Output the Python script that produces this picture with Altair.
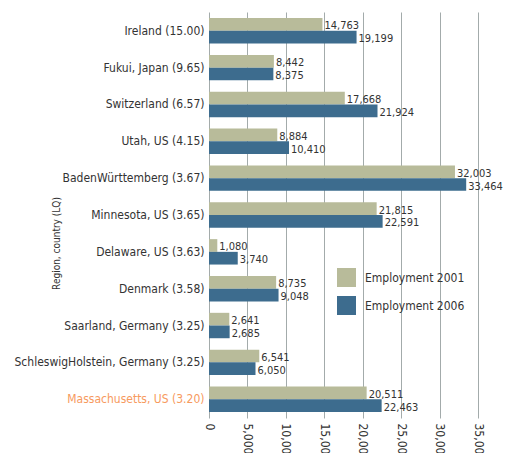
import altair as alt
import pandas as pd

regions = [
    "Ireland (15.00)", "Fukui, Japan (9.65)", "Switzerland (6.57)", "Utah, US (4.15)",
    "BadenWürttemberg (3.67)", "Minnesota, US (3.65)", "Delaware, US (3.63)",
    "Denmark (3.58)", "Saarland, Germany (3.25)", "SchleswigHolstein, Germany (3.25)",
    "Massachusetts, US (3.20)",
]
emp2001 = [14763, 8442, 17668, 8884, 32003, 21815, 1080, 8735, 2641, 6541, 20511]
emp2006 = [19199, 8375, 21924, 10410, 33464, 22591, 3740, 9048, 2685, 6050, 22463]
series = ["Employment 2001", "Employment 2006"]
x_ticks = [0, 5000, 10000, 15000, 20000, 25000, 30000, 35000]

rows = []
for r, a, b in zip(regions, emp2001, emp2006):
    rows.append({"region": r, "series": series[0], "value": a})
    rows.append({"region": r, "series": series[1], "value": b})
df = pd.DataFrame(rows)

FONT = "DejaVu Sans Condensed, Liberation Sans, sans-serif"

y_enc = alt.Y(
    "region:N", sort=regions,
    scale=alt.Scale(paddingInner=0.31, paddingOuter=0.165),
    axis=alt.Axis(
        title="Region, country (LQ)", titleFont=FONT, titleFontSize=10,
        titleFontWeight="normal", titleColor="#333333",
        titleX=-148, titleY=231, titleAngle=-90,
        labelFont=FONT, labelFontSize=12, labelColor=alt.ExprRef(
            expr="datum.value == 'Massachusetts, US (3.20)' ? '#f79a5e' : '#333333'"),
        labelPadding=5, ticks=False, domain=False, labelLimit=300, grid=False,
    ),
)
x_enc = alt.X(
    "value:Q",
    scale=alt.Scale(domain=[0, 35000], nice=False),
    axis=alt.Axis(
        title=None, values=x_ticks, format=",.0f", labelAngle=90, labelAlign="left",
        labelBaseline="middle", labelFont=FONT, labelFontSize=12, labelColor="#333333",
        grid=True, gridColor="#a3abab", gridWidth=1, domain=False,
        ticks=False, labelPadding=5,
    ),
)
color_enc = alt.Color(
    "series:N",
    scale=alt.Scale(domain=series, range=["#b8bb9a", "#3d6c8e"]),
    legend=alt.Legend(
        title=None, orient="none", legendX=128, legendY=256,
        symbolType="square", symbolSize=361, symbolStrokeWidth=0,
        labelFont=FONT, labelFontSize=12, labelColor="#333333",
        rowPadding=9, padding=0, labelOffset=9,
    ),
)

base = alt.Chart(df).encode(
    y=y_enc, x=x_enc,
    yOffset=alt.YOffset("series:N", sort=series),
)
bars = base.mark_bar(size=12.7).encode(color=color_enc)
labels = base.mark_text(
    align="left", baseline="middle", dx=2, dy=2, font=FONT, fontSize=11, color="#333333"
).encode(text=alt.Text("value:Q", format=","))

chart = alt.layer(bars, labels).properties(
    width=269, height=406,
    autosize=alt.AutoSizeParams(type="none"),
    padding={"left": 201, "top": 4, "right": 25, "bottom": 35},
).configure_view(stroke=None)

chart.save("out.html", embed_options={"renderer": "svg", "actions": False})
